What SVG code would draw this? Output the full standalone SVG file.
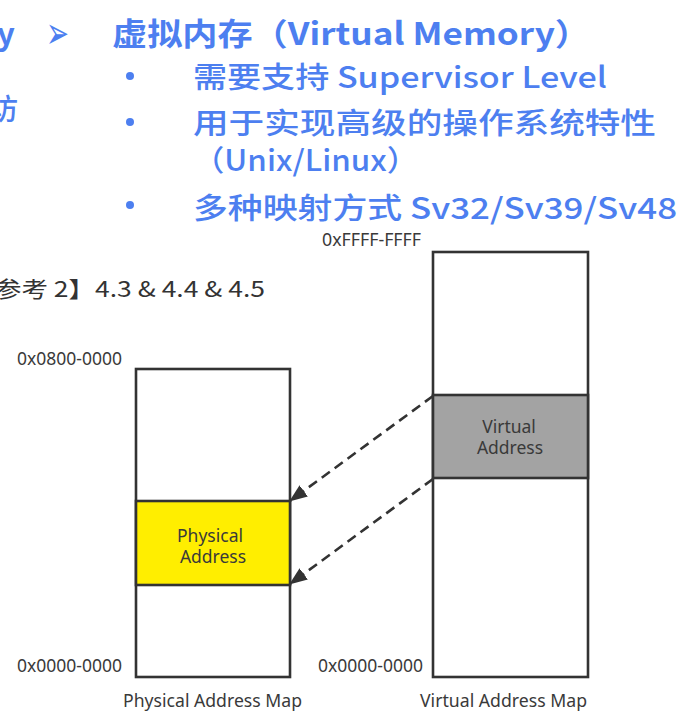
<svg xmlns="http://www.w3.org/2000/svg" width="690" height="726" viewBox="0 0 690 726">
  <defs>
    <style>
      .blue { fill: #4d7ff0; font-family: "Noto Sans CJK SC", "Noto Sans", sans-serif; }
      .head { font-size: 31px; font-weight: bold; }
      .bul { font-size: 29px; font-weight: 500; }
      .lbl { fill: #3a3a3a; font-family: "Noto Sans", "Open Sans", "Noto Sans CJK SC", sans-serif; font-size: 17.5px; }
      .box { stroke: #333333; stroke-width: 2.6; }
      .conn { fill: none; stroke: #333333; stroke-width: 2.6; stroke-dasharray: 10 6; }
    </style>
    <marker id="arrow" markerWidth="18" markerHeight="14" refX="17" refY="7" orient="auto" markerUnits="userSpaceOnUse">
      <path d="M0,0 L18,7 L0,14 Z" fill="#333333"/>
    </marker>
  </defs>
  <rect width="690" height="726" fill="#ffffff"/>

  <g id="slide-text">
    <text class="blue head" x="-3" y="45">y</text>
    <text x="46" y="48" font-family="DejaVu Sans, sans-serif" font-size="44" fill="#4d7ff0" textLength="23" lengthAdjust="spacingAndGlyphs">➢</text>
    <text class="blue head" x="112" y="45" textLength="478" lengthAdjust="spacingAndGlyphs">虚拟内存（Virtual Memory）</text>
    <text class="blue bul" x="-11" y="120">访</text>
    <circle cx="130" cy="76" r="4" fill="#4d7ff0"/>
    <circle cx="130" cy="122" r="4" fill="#4d7ff0"/>
    <circle cx="130" cy="205" r="4" fill="#4d7ff0"/>
    <text class="blue bul" x="193" y="88" textLength="414" lengthAdjust="spacingAndGlyphs">需要支持 Supervisor Level</text>
    <text class="blue bul" x="193" y="134" textLength="463" lengthAdjust="spacingAndGlyphs">用于实现高级的操作系统特性</text>
    <text class="blue bul" x="193" y="171" textLength="225" lengthAdjust="spacingAndGlyphs">（Unix/Linux）</text>
    <text class="blue bul" x="193" y="219" textLength="484" lengthAdjust="spacingAndGlyphs">多种映射方式 Sv32/Sv39/Sv48</text>
    <text x="-5" y="297" fill="#333333" font-family="Noto Sans CJK SC, sans-serif" font-size="22" textLength="270" lengthAdjust="spacingAndGlyphs">参考 2】4.3 &amp; 4.4 &amp; 4.5</text>
  </g>

  <g id="physical-map">
    <rect class="box" x="136" y="369" width="154" height="308" fill="#ffffff"/>
    <text class="lbl" x="17" y="365" textLength="105" lengthAdjust="spacingAndGlyphs">0x0800-0000</text>
    <text class="lbl" x="17" y="672" textLength="105" lengthAdjust="spacingAndGlyphs">0x0000-0000</text>
    <text class="lbl" x="123" y="707" textLength="179" lengthAdjust="spacingAndGlyphs">Physical Address Map</text>
  </g>
  <g id="physical-address">
    <rect class="box" x="136" y="501" width="154" height="84" fill="#ffee00"/>
    <text class="lbl" x="210" y="542" text-anchor="middle">Physical</text>
    <text class="lbl" x="213" y="563" text-anchor="middle">Address</text>
  </g>

  <g id="virtual-map">
    <rect class="box" x="433" y="252" width="155" height="425" fill="#ffffff"/>
    <text class="lbl" x="322" y="246" textLength="99" lengthAdjust="spacingAndGlyphs">0xFFFF-FFFF</text>
    <text class="lbl" x="318" y="672" textLength="105" lengthAdjust="spacingAndGlyphs">0x0000-0000</text>
    <text class="lbl" x="420" y="707" textLength="167" lengthAdjust="spacingAndGlyphs">Virtual Address Map</text>
  </g>
  <g id="virtual-address">
    <rect class="box" x="433" y="395" width="155" height="83" fill="#a3a3a3"/>
    <text class="lbl" x="509" y="433" text-anchor="middle">Virtual</text>
    <text class="lbl" x="510" y="454" text-anchor="middle">Address</text>
  </g>

  <g id="connectors">
    <path class="conn" d="M433,396 L290,501" marker-end="url(#arrow)"/>
    <path class="conn" d="M433,479 L290,584" marker-end="url(#arrow)"/>
  </g>
</svg>
